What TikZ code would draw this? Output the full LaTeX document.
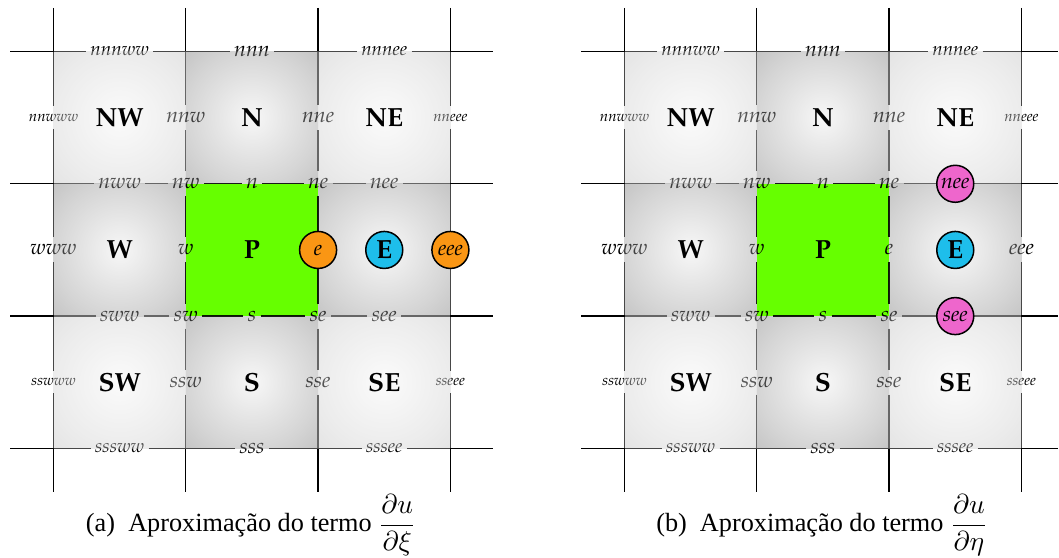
\documentclass[tikz,border=0pt]{standalone}
\usepackage[T1]{fontenc}
\usepackage{fontspec}
\setmainfont{Liberation Serif}
\usepackage{amsmath}
\definecolor{pgreen}{RGB}{102,255,0}
\definecolor{porange}{RGB}{250,150,20}
\definecolor{pblue}{RGB}{30,190,235}
\definecolor{ppink}{RGB}{238,102,204}
\definecolor{csA}{RGB}{244,244,244}
\definecolor{csB}{RGB}{207,207,207}
\definecolor{csC}{RGB}{187,187,187}
\definecolor{esA}{RGB}{235,235,235}
\definecolor{esB}{RGB}{150,150,150}
\definecolor{esC}{RGB}{108,108,108}
\pgfdeclareradialshading{cornershade}{\pgfpoint{0bp}{0bp}}{color(0bp)=(csA); color(25bp)=(csB); color(36bp)=(csC); color(50bp)=(csC)}
\pgfdeclareradialshading{edgeshade}{\pgfpoint{0bp}{0bp}}{color(0bp)=(esA); color(25bp)=(esB); color(36bp)=(esC); color(50bp)=(esC)}
\newcommand\labfont{\fontsize{8.5}{9}\usefont{T1}{ppl}{m}{it}}
\newcommand\labfonth{\fontsize{7.5}{8}\usefont{T1}{ppl}{m}{it}}
\newcommand\labfontv{\fontsize{6}{7}\usefont{T1}{ppl}{m}{it}}
\newcommand\bigfont{\fontsize{10.5}{12}\usefont{T1}{ppl}{b}{n}}
\tikzset{
  outl/.style={line width=0.5pt, black},
  bndl/.style={line width=0.5pt, black!72},
  inl/.style={line width=0.5pt, black!60},
  pl/.style={line width=0.5pt, black!90},
  lab/.style={inner xsep=1.6pt, inner ysep=1.8pt, text height=5pt, text depth=1pt, font=\labfont},
  labh/.style={inner xsep=1.6pt, inner ysep=1.8pt, text height=4.5pt, text depth=1pt, font=\labfonth},
  labv/.style={inner xsep=1.2pt, inner ysep=1.8pt, text height=4pt, text depth=1pt, font=\labfontv},
  big/.style={inner sep=0pt, font=\bigfont},
  circ/.style={circle, draw=black, line width=0.6pt, minimum size=14.8pt, inner sep=0pt},
  cornercell/.style={shading=cornershade, fill opacity=0.4},
  edgecell/.style={shading=edgeshade, fill opacity=0.4},
}
% #1 prefix, #2 x shift, #3 right end of horizontal lines, #4 variant (1 = a, 2 = b)
\newcommand\gridpanel[4]{%
 \begin{scope}[shift={(#2,0)}]
  % small labels (drawn first, the cells tint them)
  \node[labh] (#1nnnww) at (119.65,51.5) {nnnww};
  \node[lab]  (#1nnn)   at (251.95,51.5) {nnn};
  \node[labh] (#1nnnee) at (384.25,51.5) {nnnee};
  \node[labv] (#1nnwww) at (53.5,117.65) {nnwww};
  \node[lab]  (#1nnw)   at (185.8,117.65) {nnw};
  \node[lab]  (#1nne)   at (318.1,117.65) {nne};
  \node[labv] (#1nneee) at (450.4,117.65) {nneee};
  \node[lab]  (#1nww)   at (119.65,183.8) {nww};
  \node[lab]  (#1nw)    at (185.8,183.8) {nw};
  \node[lab]  (#1n)     at (251.95,183.8) {n};
  \node[lab]  (#1ne)    at (318.1,183.8) {ne};
  \node[lab]  (#1www)   at (53.5,249.95) {www};
  \node[lab]  (#1w)     at (185.8,249.95) {w};
  \node[lab]  (#1sww)   at (119.65,316.1) {sww};
  \node[lab]  (#1sw)    at (185.8,316.1) {sw};
  \node[lab]  (#1s)     at (251.95,316.1) {s};
  \node[lab]  (#1se)    at (318.1,316.1) {se};
  \node[labv] (#1sswww) at (53.5,382.25) {sswww};
  \node[lab]  (#1ssw)   at (185.8,382.25) {ssw};
  \node[lab]  (#1sse)   at (318.1,382.25) {sse};
  \node[labv] (#1sseee) at (450.4,382.25) {sseee};
  \node[labh] (#1sssww) at (119.65,448.4) {sssww};
  \node[lab]  (#1sss)   at (251.95,448.4) {sss};
  \node[labh] (#1sssee) at (384.25,448.4) {sssee};
  \ifnum#4=1
    \node[lab] (#1nee) at (384.25,183.8) {nee};
    \node[lab] (#1see) at (384.25,316.1) {see};
  \else
    \node[lab] (#1e)   at (318.1,249.95) {e};
    \node[lab] (#1eee) at (450.4,249.95) {eee};
  \fi
  % shaded cells
  \shade[cornercell] (53.5,51.5) rectangle (185.8,183.8);
  \shade[edgecell]   (185.8,51.5) rectangle (318.1,183.8);
  \shade[cornercell] (318.1,51.5) rectangle (450.4,183.8);
  \shade[edgecell]   (53.5,183.8) rectangle (185.8,316.1);
  \shade[edgecell]   (318.1,183.8) rectangle (450.4,316.1);
  \shade[cornercell] (53.5,316.1) rectangle (185.8,448.4);
  \shade[edgecell]   (185.8,316.1) rectangle (318.1,448.4);
  \shade[cornercell] (318.1,316.1) rectangle (450.4,448.4);
  % grid lines, broken at the labels
  % x = 53.5
  \draw[outl] (53.5,8) -- (53.5,51.5);
  \draw[bndl] (53.5,51.5) -- (#1nnwww.north);
  \draw[bndl] (#1nnwww.south) -- (#1www.north);
  \draw[bndl] (#1www.south) -- (#1sswww.north);
  \draw[bndl] (#1sswww.south) -- (53.5,448.4);
  \draw[outl] (53.5,448.4) -- (53.5,492);
  % x = 185.8
  \draw[outl] (185.8,8) -- (185.8,51.5);
  \draw[inl] (185.8,51.5) -- (#1nnw.north);
  \draw[inl] (#1nnw.south) -- (#1nw.north);
  \draw[pl] (#1nw.south) -- (#1w.north);
  \draw[pl] (#1w.south) -- (#1sw.north);
  \draw[inl] (#1sw.south) -- (#1ssw.north);
  \draw[inl] (#1ssw.south) -- (185.8,448.4);
  \draw[outl] (185.8,448.4) -- (185.8,492);
  % x = 318.1
  \draw[outl] (318.1,8) -- (318.1,51.5);
  \draw[inl] (318.1,51.5) -- (#1nne.north);
  \draw[inl] (#1nne.south) -- (#1ne.north);
  \ifnum#4=1
    \draw[pl] (#1ne.south) -- (#1se.north);
  \else
    \draw[pl] (#1ne.south) -- (#1e.north);
    \draw[pl] (#1e.south) -- (#1se.north);
  \fi
  \draw[inl] (#1se.south) -- (#1sse.north);
  \draw[inl] (#1sse.south) -- (318.1,448.4);
  \draw[outl] (318.1,448.4) -- (318.1,492);
  % x = 450.4
  \draw[outl] (450.4,8) -- (450.4,51.5);
  \draw[bndl] (450.4,51.5) -- (#1nneee.north);
  \ifnum#4=1
    \draw[bndl] (#1nneee.south) -- (#1sseee.north);
  \else
    \draw[bndl] (#1nneee.south) -- (#1eee.north);
    \draw[bndl] (#1eee.south) -- (#1sseee.north);
  \fi
  \draw[bndl] (#1sseee.south) -- (450.4,448.4);
  \draw[outl] (450.4,448.4) -- (450.4,492);
  % y = 51.5
  \draw[outl] (10,51.5) -- (53.5,51.5);
  \draw[bndl] (53.5,51.5) -- (#1nnnww.west);
  \draw[bndl] (#1nnnww.east) -- (#1nnn.west);
  \draw[bndl] (#1nnn.east) -- (#1nnnee.west);
  \draw[bndl] (#1nnnee.east) -- (450.4,51.5);
  \draw[outl] (450.4,51.5) -- (#3,51.5);
  % y = 183.8
  \draw[outl] (10,183.8) -- (53.5,183.8);
  \draw[inl] (53.5,183.8) -- (#1nww.west);
  \draw[inl] (#1nww.east) -- (#1nw.west);
  \draw[pl] (#1nw.east) -- (#1n.west);
  \draw[pl] (#1n.east) -- (#1ne.west);
  \ifnum#4=1
    \draw[inl] (#1ne.east) -- (#1nee.west);
    \draw[inl] (#1nee.east) -- (450.4,183.8);
  \else
    \draw[inl] (#1ne.east) -- (450.4,183.8);
  \fi
  \draw[outl] (450.4,183.8) -- (#3,183.8);
  % y = 316.1
  \draw[outl] (10,316.1) -- (53.5,316.1);
  \draw[inl] (53.5,316.1) -- (#1sww.west);
  \draw[inl] (#1sww.east) -- (#1sw.west);
  \draw[pl] (#1sw.east) -- (#1s.west);
  \draw[pl] (#1s.east) -- (#1se.west);
  \ifnum#4=1
    \draw[inl] (#1se.east) -- (#1see.west);
    \draw[inl] (#1see.east) -- (450.4,316.1);
  \else
    \draw[inl] (#1se.east) -- (450.4,316.1);
  \fi
  \draw[outl] (450.4,316.1) -- (#3,316.1);
  % y = 448.4
  \draw[outl] (10,448.4) -- (53.5,448.4);
  \draw[bndl] (53.5,448.4) -- (#1sssww.west);
  \draw[bndl] (#1sssww.east) -- (#1sss.west);
  \draw[bndl] (#1sss.east) -- (#1sssee.west);
  \draw[bndl] (#1sssee.east) -- (450.4,448.4);
  \draw[outl] (450.4,448.4) -- (#3,448.4);
  % control volume P
  \fill[pgreen, blend mode=multiply] (185.8,183.8) rectangle (318.1,316.1);
  % cell names
  \node[big] (#1NW) at (119.65,117.65) {NW};
  \node[big] (#1N)  at (251.95,117.65) {N};
  \node[big] (#1NE) at (384.25,117.65) {NE};
  \node[big] (#1W)  at (119.65,249.95) {W};
  \node[big] (#1P)  at (251.95,249.95) {P};
  \node[big] (#1SW) at (119.65,382.25) {SW};
  \node[big] (#1S)  at (251.95,382.25) {S};
  \node[big] (#1SE) at (384.25,382.25) {SE};
  \node[circ, fill=pblue, font=\bigfont] (#1E) at (384.25,249.95) {E};
  \ifnum#4=1
    \node[circ, fill=porange, font=\labfont] (#1e)   at (318.1,249.95) {e};
    \node[circ, fill=porange, font=\labfont] (#1eee) at (450.4,249.95) {eee};
  \else
    \node[circ, fill=ppink, font=\labfont] (#1nee) at (384.25,183.8) {nee};
    \node[circ, fill=ppink, font=\labfont] (#1see) at (384.25,316.1) {see};
  \fi
 \end{scope}}
\begin{document}
\begin{tikzpicture}[x=0.4pt, y=-0.4pt]
  \useasboundingbox (0,0) rectangle (1059,558);
  \clip (0,0) rectangle (1059,558);
  \gridpanel{a}{0}{493}{1}
  \gridpanel{b}{571}{487}{2}
  \node[anchor=base, inner sep=0pt, font=\normalfont\fontsize{10.5}{12}\selectfont] (capa) at (251,532)
    {(a)\enspace Aproximação do termo $\dfrac{\partial u}{\partial \xi}$};
  \node[anchor=base, inner sep=0pt, font=\normalfont\fontsize{10.5}{12}\selectfont] (capb) at (822,532)
    {(b)\enspace Aproximação do termo $\dfrac{\partial u}{\partial \eta}$};
\end{tikzpicture}
\end{document}
